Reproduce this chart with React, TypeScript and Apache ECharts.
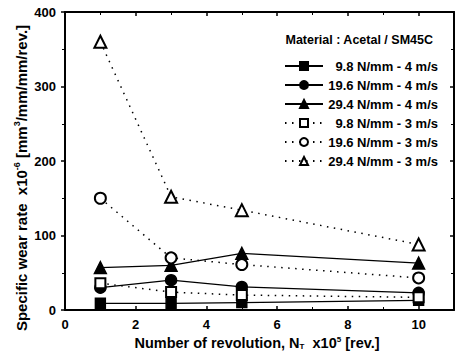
import React, { useEffect, useRef } from 'react';
import * as echarts from 'echarts';

const xValues = [1, 3, 5, 10];
const seriesNames = [
  '9.8 N/mm - 4 m/s',
  '19.6 N/mm - 4 m/s',
  '29.4 N/mm - 4 m/s',
  '9.8 N/mm - 3 m/s',
  '19.6 N/mm - 3 m/s',
  '29.4 N/mm - 3 m/s',
];
const w98_4 = [9, 9, 10, 13];
const w196_4 = [30, 40, 31, 23];
const w294_4 = [57, 60, 76, 63];
const w98_3 = [36, 24, 20, 17];
const w196_3 = [150, 70, 61, 43];
const w294_3 = [360, 152, 134, 88];
const xTicks = [0, 2, 4, 6, 8, 10];
const yTicks = [0, 100, 200, 300, 400];

const FONT = '"Liberation Sans", Arial, sans-serif';

export default function App() {
  const ref = useRef<HTMLDivElement>(null);
  useEffect(() => {
    const chart = echarts.init(ref.current!, null, { renderer: 'svg' });
    const values = [w98_4, w196_4, w294_4, w98_3, w196_3, w294_3];
    const symbols = ['rect', 'circle', 'triangle', 'emptyRect', 'emptyCircle', 'emptyTriangle'];
    const sizes = [10, 11, 12, 10, 11, 12];
    const dotted = [1.5, 5.5];
    const series = values.map((vals, i) => ({
      name: seriesNames[i],
      type: 'line',
      data: xValues.map((x, j) => [x, vals[j]]),
      symbol: symbols[i],
      symbolSize: sizes[i],
      showAllSymbol: true,
      itemStyle: { color: '#000', borderColor: '#000', borderWidth: 1.4 },
      lineStyle: {
        color: '#000',
        width: i < 3 ? 1.3 : 1.5,
        type: i < 3 ? 'solid' : dotted,
        cap: 'butt',
      },
      z: 3,
    }));
    const axisText = { color: '#000', fontFamily: FONT, fontWeight: 'bold', fontSize: 13 };
    const lbl = { fontFamily: FONT, fontWeight: 'bold', color: '#000' };
    const frameAxis = {
      axisLine: { show: true, onZero: false, lineStyle: { color: '#000', width: 2 } },
      minorTick: { show: true, splitNumber: 2, length: 3, lineStyle: { color: '#000', width: 1 } },
      splitLine: { show: false },
    };
    chart.setOption({
      animation: false,
      backgroundColor: '#fff',
      grid: { left: 65, right: 2, top: 12, bottom: 46, containLabel: false },
      xAxis: [
        {
          type: 'value', min: 0, max: 11, interval: 2, position: 'bottom',
          ...frameAxis,
          axisTick: { show: true, inside: true, length: 4, lineStyle: { color: '#000', width: 1.5 } },
          axisLabel: {
            ...axisText, margin: 8,
            formatter: (v: number) => (xTicks.includes(v) ? String(v) : ''),
          },
        },
        {
          type: 'value', min: 0, max: 11, interval: 2, position: 'top',
          ...frameAxis,
          axisTick: { show: true, inside: true, length: 4, lineStyle: { color: '#000', width: 1.5 } },
          axisLabel: { show: false },
        },
      ],
      yAxis: [
        {
          type: 'value', min: 0, max: 400, interval: 100, position: 'left',
          ...frameAxis,
          axisTick: { show: true, inside: false, length: 4, lineStyle: { color: '#000', width: 1.5 } },
          axisLabel: {
            ...axisText, margin: 9,
            formatter: (v: number) => (yTicks.includes(v) ? String(v) : ''),
          },
        },
        {
          type: 'value', min: 0, max: 400, interval: 100, position: 'right',
          ...frameAxis,
          axisTick: { show: true, inside: true, length: 4, lineStyle: { color: '#000', width: 1.5 } },
          axisLabel: { show: false },
        },
      ],
      legend: {
        orient: 'vertical',
        left: 279,
        top: 54,
        itemWidth: 38,
        itemHeight: 10,
        itemGap: 5,
        data: seriesNames,
        formatter: (n: string) => `{r|${n}}`,
        textStyle: {
          rich: {
            r: { width: 110, height: 14, lineHeight: 14, align: 'right', fontSize: 13, fontWeight: 'bold', color: '#000', fontFamily: FONT },
          },
        },
      },
      graphic: [
        {
          type: 'text', x: 433, y: 40,
          style: {
            text: 'Material : Acetal / SM45C', align: 'right', verticalAlign: 'middle',
            font: `bold 12.5px ${FONT}`, fill: '#000',
          },
        },
        {
          type: 'text', x: 21, y: 178, rotation: Math.PI / 2,
          style: {
            text: '{a|Specific wear rate  x10}{s|-6}{a| [mm}{s|3}{a|/mm/mm/rev.]}',
            align: 'center', verticalAlign: 'middle',
            rich: {
              a: { ...lbl, fontSize: 15 },
              s: { ...lbl, fontSize: 9, padding: [0, 0, 9, 0] },
            },
          },
        },
        {
          type: 'text', x: 257, y: 343,
          style: {
            text: '{a|Number of revolution, N}{b|T}{a|  x10}{s|5}{a| [rev.]}',
            align: 'center', verticalAlign: 'middle',
            rich: {
              a: { ...lbl, fontSize: 14.5 },
              b: { ...lbl, fontSize: 8, padding: [7, 0, 0, 0] },
              s: { ...lbl, fontSize: 8, padding: [0, 0, 8, 0] },
            },
          },
        },
      ],
      series,
    });
    return () => chart.dispose();
  }, []);
  return (
    <div
      ref={ref}
      style={{ position: 'fixed', left: 0, top: 0, width: 457, height: 356 }}
    />
  );
}
